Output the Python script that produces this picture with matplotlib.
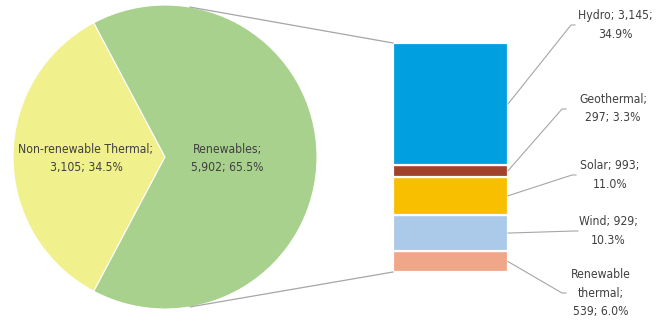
import numpy as np
import matplotlib
matplotlib.use("Agg")
import matplotlib.pyplot as plt
from matplotlib import font_manager

# ---- data -------------------------------------------------------------
pie_labels = ["Non-renewable Thermal", "Renewables"]
pie_values = [3105, 5902]
pie_colors = ["#F0F08C", "#A9D18E"]

bar_labels = ["Hydro", "Geothermal", "Solar", "Wind", "Renewable\nthermal"]
bar_values = [3145, 297, 993, 929, 539]
bar_colors = ["#009FDF", "#A0432A", "#F8BE00", "#ABC9E8", "#F0A688"]
bar_label_text = ["Hydro; 3,145;\n34.9%", "Geothermal;\n297; 3.3%",
                  "Solar; 993;\n11.0%", "Wind; 929;\n10.3%",
                  "Renewable\nthermal;\n539; 6.0%"]
pie_label_text = ["Non-renewable Thermal;\n3,105; 34.5%",
                  "Renewables;\n5,902; 65.5%"]

# ---- font: prefer a condensed face when one is installed ---------------
family = "DejaVu Sans"
stretch = "normal"
for f in font_manager.fontManager.ttflist:
    if "Condensed" in f.name or str(f.stretch) in ("condensed", "semi-condensed"):
        family, stretch = f.name, f.stretch
        break
plt.rcParams["font.family"] = [family, "DejaVu Sans"]
TXT = "#404040"
FS = 8.7
LS = 1.5

W, H = 667, 327
fig = plt.figure(figsize=(W / 100, H / 100), dpi=100)
ax = fig.add_axes([0, 0, 1, 1])

# ---- pie ----------------------------------------------------------------
cx, cy, r = 165, 170, 152
share = pie_values[0] / sum(pie_values)
start = 180 - 360 * share / 2
ax.pie(pie_values, colors=pie_colors, startangle=start, counterclock=True,
       center=(cx, cy), radius=r, frame=True,
       wedgeprops=dict(edgecolor="white", linewidth=0.8))
ax.set_xlim(0, W)
ax.set_ylim(0, H)
ax.set_aspect("equal")
ax.axis("off")

ax.text(86, H - 158, pie_label_text[0], ha="center", va="center",
        fontsize=FS, color=TXT, fontstretch=stretch, linespacing=LS)
ax.text(227, H - 158, pie_label_text[1], ha="center", va="center",
        fontsize=FS, color=TXT, fontstretch=stretch, linespacing=LS)

# ---- stacked bar ---------------------------------------------------------
bx, bw = 450.5, 115
bar_bottom, bar_height = H - 272, 229
scale = bar_height / sum(bar_values)
bottom = bar_bottom
mids = []
for v, c in reversed(list(zip(bar_values, bar_colors))):
    ax.bar(bx, v * scale, bottom=bottom, width=bw, color=c,
           edgecolor="white", linewidth=1.6)
    mids.append(bottom + v * scale / 2)
    bottom += v * scale
mids = mids[::-1]
bar_top = bottom

# connectors between the pie and the bar
grey = "#A6A6A6"
ang = np.deg2rad(80.5)
ax.plot([cx + r * np.cos(ang), bx - bw / 2], [cy + r * np.sin(ang), bar_top],
        color=grey, lw=0.9)
ax.plot([cx + r * np.cos(ang), bx - bw / 2], [cy - r * np.sin(ang), bar_bottom],
        color=grey, lw=0.9)

# bar labels with leader lines
label_end = [(571, 25), (562, 109), (572, 175), (574, 231), (562, 293)]
label_ctr = [615, 613, 610, 608, 601]
for m, (ex, ey), tx, t in zip(mids, label_end, label_ctr, bar_label_text):
    ax.plot([bx + bw / 2, ex, ex + 4], [m, H - ey, H - ey], color=grey, lw=0.8)
    ax.text(tx, H - ey, t, ha="center", va="center", fontsize=FS, color=TXT,
            fontstretch=stretch, linespacing=LS)

fig.savefig("out.png", dpi=100)
